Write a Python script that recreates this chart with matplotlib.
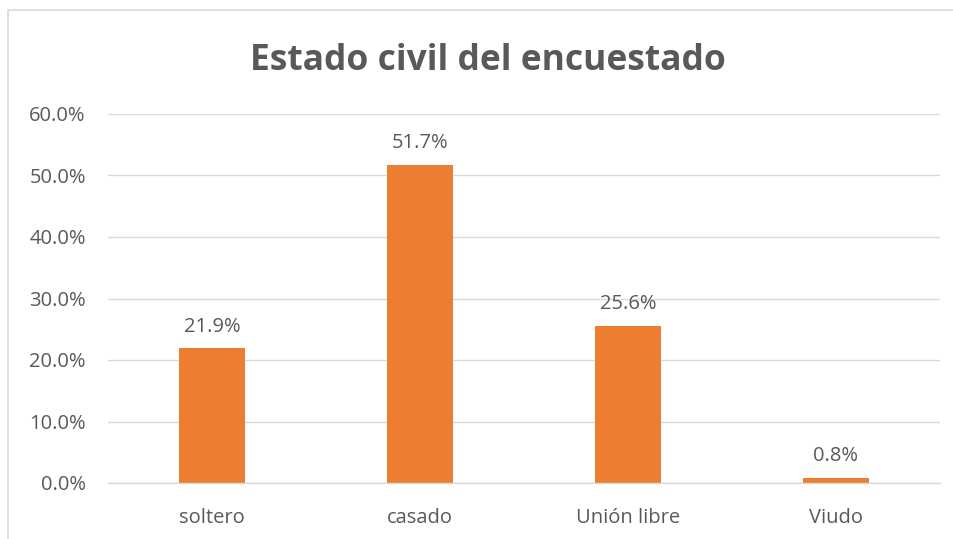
import matplotlib.pyplot as plt
from matplotlib.patches import Rectangle

categories = ["soltero", "casado", "Unión libre", "Viudo"]
values = [21.9, 51.7, 25.6, 0.8]
labels = ["21.9%", "51.7%", "25.6%", "0.8%"]
yticks = [0, 10, 20, 30, 40, 50, 60]

text_color = "#595959"
bar_color = "#ed7d31"
grid_color = "#d9d9d9"

plt.rcParams['font.family'] = ['Open Sans', 'DejaVu Sans']

fig = plt.figure(figsize=(9.54, 5.39), dpi=100)
# outer chart border (only left and top edges visible in the crop)
fig.patches.append(Rectangle((8.5 / 954, -0.1), 1.2, 1.1 - 9.5 / 539,
                             transform=fig.transFigure, fill=False,
                             edgecolor=grid_color, linewidth=1.2))

ax = fig.add_axes([108 / 954, 1 - 483 / 539, 832 / 954, 369 / 539])
x = range(len(categories))
ax.bar(x, values, width=0.32, color=bar_color, zorder=2)
for xi, v, lab in zip(x, values, labels):
    ax.text(xi, v + 1.9, lab, ha='center', va='bottom', fontsize=14.5, color=text_color)

ax.set_xlim(-0.5, 3.5)
ax.set_ylim(0, 60)
ax.set_yticks(yticks)
ax.set_yticklabels([f"{t:.1f}%" for t in yticks])
ax.set_xticks(list(x))
ax.set_xticklabels(categories)
ax.tick_params(axis='both', length=0, labelsize=14.5, labelcolor=text_color)
ax.tick_params(axis='y', pad=16)
ax.tick_params(axis='x', pad=18)
ax.grid(axis='y', color=grid_color, linewidth=1, zorder=0)
for s in ['top', 'right', 'left']:
    ax.spines[s].set_visible(False)
ax.spines['bottom'].set_color(grid_color)
ax.spines['bottom'].set_linewidth(1)

fig.text(488 / 954, 1 - 61 / 539, "Estado civil del encuestado", ha='center', va='center',
         fontsize=25.5, fontweight='bold', color=text_color)

fig.savefig("out.png", dpi=100)
